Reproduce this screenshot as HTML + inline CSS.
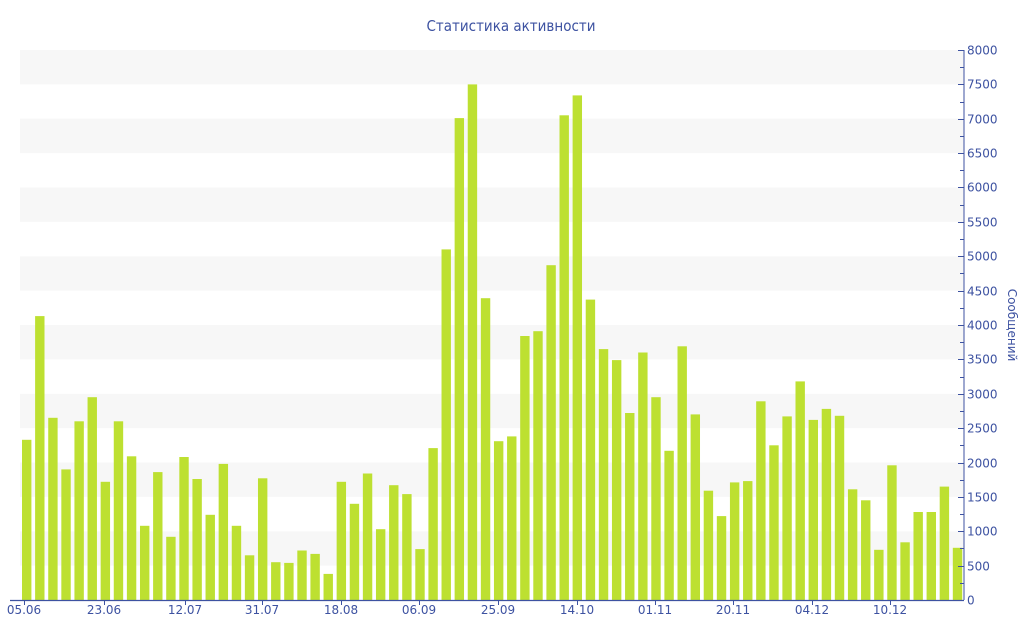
<!DOCTYPE html>
<html><head><meta charset="utf-8"><style>
html,body{margin:0;padding:0;background:#fff;}
svg{display:block;}
text{font-family:"DejaVu Sans","Liberation Sans",sans-serif;fill:#3d52a1;}
</style></head><body>
<svg id="c" width="1024" height="640" xmlns="http://www.w3.org/2000/svg">
<g id="g"></g>
<text x="511" y="31" font-size="15" text-anchor="middle" textLength="169" lengthAdjust="spacingAndGlyphs">Статистика активности</text>
<text transform="translate(1008,325) rotate(90)" font-size="12" text-anchor="middle">Сообщений</text>
</svg>
<script>
var g=document.getElementById('g'),s='';
function yf(v){return 600-v*0.06875;}
for(var b=0;b<8;b++){var ty=yf(8000-b*1000);s+='<rect x="20" y="'+ty.toFixed(1)+'" width="944" height="34.4" fill="#f7f7f7"/>';}
var d=[2330,4130,2650,1900,2600,2950,1720,2600,2090,1080,1860,920,2080,1760,1240,1980,1080,650,1770,550,540,720,670,380,1720,1400,1840,1030,1670,1540,740,2210,5100,7010,7500,4390,2310,2380,3840,3910,4870,7050,7340,4370,3650,3490,2720,3600,2950,2170,3690,2700,1590,1220,1710,1730,2890,2250,2670,3180,2620,2780,2680,1610,1450,730,1960,840,1280,1280,1650,760];
for(var i=0;i<d.length;i++){var x=22+i*13.11;s+='<rect x="'+x.toFixed(2)+'" y="'+yf(d[i]).toFixed(1)+'" width="9.4" height="'+(d[i]*0.06875).toFixed(1)+'" fill="#bde031"/>';}
s+='<line x1="964" y1="50" x2="964" y2="600" stroke="#3d52a1" stroke-width="1"/>';
s+='<line x1="10" y1="600.5" x2="964" y2="600.5" stroke="#3d52a1" stroke-width="1.2"/>';
for(var v=0;v<=8000;v+=250){var yy=Math.round(yf(v))+0.5;var major=v%500==0;s+='<line x1="'+(major?958:960)+'" y1="'+yy+'" x2="964" y2="'+yy+'" stroke="#3d52a1" stroke-width="1"/>';if(major)s+='<text x="967" y="'+(yy+4)+'" font-size="12">'+v+'</text>';}
var L=[["05.06",24],["23.06",104],["12.07",185],["31.07",262],["18.08",341],["06.09",419],["25.09",498],["14.10",577],["01.11",655],["20.11",733],["04.12",812],["10.12",890]];
L.forEach(function(l){s+='<line x1="'+(l[1]+0.5)+'" y1="600" x2="'+(l[1]+0.5)+'" y2="605" stroke="#3d52a1"/><text x="'+l[1]+'" y="614" font-size="12" text-anchor="middle">'+l[0]+'</text>';});
g.innerHTML=s;
</script>
</body></html>
